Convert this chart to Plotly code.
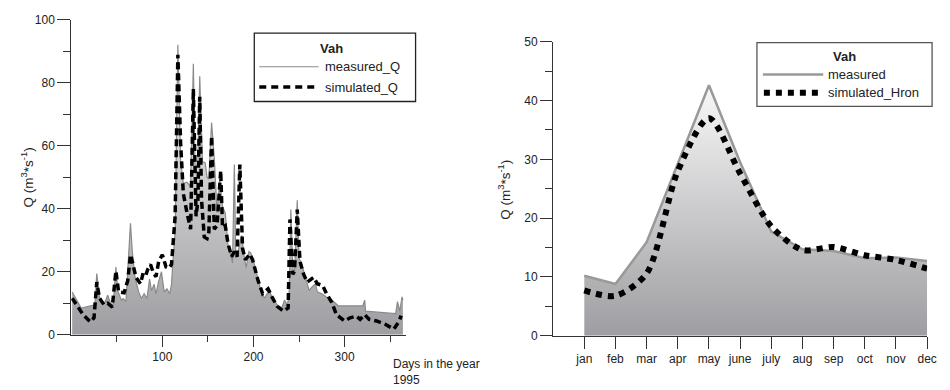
import plotly.graph_objects as go

# ---------------- Left chart: daily discharge 1995 ----------------
meas_day = [1, 11, 26, 28, 31, 35, 38, 40, 43, 46, 49, 51, 55, 57, 60, 65, 67, 70, 74, 77,
            80, 83, 86, 88, 91, 93, 96, 99, 102, 105, 108, 110, 111.5, 114, 117, 120, 123, 127,
            131, 134, 136, 139, 141, 144, 147, 149, 151, 154, 157, 160, 163, 166, 169, 172,
            175, 177, 179, 180.5, 183, 187, 190, 192, 195, 197, 201, 205, 208, 212, 215, 217,
            221, 226, 231, 234, 237, 239, 241, 243, 245, 248, 250, 253, 257, 261, 264, 268,
            270, 275, 280, 286, 293, 320, 322, 323, 356, 358, 360.5, 363, 364]
meas_q = [13.6, 8.5, 9.5, 19.4, 12, 9.5, 11, 12.6, 10, 9.5, 21.5, 14, 11, 11.5, 10.5, 35.4,
          26.4, 18.2, 13.6, 11.5, 13, 11.5, 17.7, 14, 16, 13, 17, 20, 13.6, 14.6, 13, 16, 23,
          32.5, 92, 55, 48, 48.4, 47, 86, 51, 55, 82, 55, 54.5, 50, 49.4, 67.3, 56, 38.7, 49,
          40.7, 38.7, 28.4, 25.4, 22.8, 54, 25.4, 26.4, 31.5, 24.3, 21.3, 26.4, 26, 22.3, 17.2,
          14.1, 11.6, 13, 14.1, 11.6, 9.5, 8.5, 11, 9.5, 12, 39.7, 21.3, 19.2, 42.7, 24.3,
          22.3, 18.2, 14.1, 15.1, 16.2, 13.6, 13, 12, 11, 9.2, 9.2, 11, 7.5, 6.7, 10.5, 7.5,
          12, 11]

sim_day = [1, 6, 13, 21, 25, 28, 31, 36, 40, 45, 49, 52, 58, 62, 65, 67, 71, 76, 79, 82, 84,
           87, 90, 93, 96, 100, 104, 107, 110, 114, 117, 120, 123, 127, 131, 134, 137, 139,
           141, 143, 146, 149, 151, 154, 157, 160, 164, 166, 169, 172, 176, 179, 182, 185,
           188, 191, 196, 199, 205, 210, 216, 221, 226, 233, 238, 240, 243, 245, 248, 251,
           255, 259, 266, 270, 276, 280, 286, 291, 300, 306, 313, 317, 322, 327, 335, 344,
           354, 360, 362]
sim_q = [11.6, 9.5, 6.4, 4.1, 5.4, 16.7, 11.6, 9.5, 10, 8.8, 20.2, 13.6, 13.3, 17.2, 25.4,
         23.3, 18.2, 16.2, 19.7, 19, 20.8, 22.3, 19.7, 18.4, 23.3, 25.4, 21.5, 21.1, 22.3,
         37.6, 88.8, 61, 44.8, 38.7, 33.5, 78, 37.6, 42.7, 75.5, 42.7, 31, 30.5, 32.5, 63,
         33.5, 34.6, 52, 34, 34.6, 29, 24.8, 26.4, 24.8, 54, 27.4, 23.8, 25.6, 23.8, 17.2,
         13.1, 14.6, 11.6, 9, 7.5, 8.5, 36.6, 19.2, 20.2, 39.7, 23.3, 19.2, 16.7, 18.2, 16.2,
         15.6, 13.1, 10.2, 6.4, 4.4, 5.4, 5.9, 4.9, 6.4, 4.9, 4.4, 3.4, 1.8, 4.4, 6.1]

left_yticks = [0, 20, 40, 60, 80, 100]
left_xticks = [100, 200, 300]

# ---------------- Right chart: monthly means ----------------
months = ["jan", "feb", "mar", "apr", "may", "june", "july", "aug", "sep", "oct", "nov", "dec"]
meas_month = [10.2, 8.8, 15.9, 29.2, 42.6, 29.5, 17.7, 14.7, 14.4, 13.2, 13.3, 12.7]
sim_month = [7.7, 6.8, 10.6, 28.0, 37.0, 27.6, 18.6, 14.6, 15.1, 13.7, 12.9, 11.4]
right_yticks = [0, 10, 20, 30, 40, 50]

legend_title = "Vah"
left_names = ["measured_Q", "simulated_Q"]
right_names = ["measured", "simulated_Hron"]

FONT = "Liberation Sans, Arial, sans-serif"
TXT = "#222222"
AX = "#333333"
grad = dict(type="vertical", colorscale=[[0, "#9e9ea2"], [1, "#f8f8f8"]])

L_MEAS = dict(color="#8a8a8a", width=1.2)
L_SIM = dict(color="black", width=3.5, dash="7px,4px")
R_MEAS = dict(color="#999999", width=2.5)
R_SIM = dict(color="black", width=6, dash="6px,6px")

fig = go.Figure()

# left: gradient area, measured line, simulated dashed line
fig.add_trace(go.Scatter(x=meas_day, y=meas_q, mode="lines", line=dict(width=0),
                         fill="tozeroy", fillgradient=grad, hoverinfo="skip",
                         showlegend=False, xaxis="x", yaxis="y"))
fig.add_trace(go.Scatter(x=meas_day, y=meas_q, mode="lines", name=left_names[0],
                         line=L_MEAS, xaxis="x", yaxis="y"))
fig.add_trace(go.Scatter(x=sim_day, y=sim_q, mode="lines", name=left_names[1],
                         line=L_SIM, xaxis="x", yaxis="y"))

# right
fig.add_trace(go.Scatter(x=months, y=meas_month, mode="lines", line=dict(width=0),
                         fill="tozeroy", fillgradient=grad, hoverinfo="skip",
                         showlegend=False, xaxis="x2", yaxis="y2"))
fig.add_trace(go.Scatter(x=months, y=meas_month, mode="lines", name=right_names[0],
                         line=R_MEAS, xaxis="x2", yaxis="y2"))
fig.add_trace(go.Scatter(x=months, y=sim_month, mode="lines", name=right_names[1],
                         line=dict(**R_SIM, shape="spline", smoothing=0.8),
                         xaxis="x2", yaxis="y2"))

axis_common = dict(showgrid=False, zeroline=False, showline=True, linecolor=AX, linewidth=1,
                   ticks="outside", tickcolor=AX, tickwidth=1,
                   tickfont=dict(family=FONT, size=12, color=TXT))

fig.update_layout(
    width=950, height=390,
    margin=dict(l=0, r=0, t=0, b=0),
    paper_bgcolor="white", plot_bgcolor="white",
    font=dict(family=FONT, color=TXT),
    showlegend=False,
    xaxis=dict(domain=[72 / 950, 410 / 950], range=[0, 367], anchor="y",
               tickmode="array", tickvals=left_xticks, ticklen=11,
               minor=dict(tickmode="array", tickvals=[50, 150, 250, 350], ticklen=6,
                          ticks="outside", tickcolor=AX),
               **axis_common),
    yaxis=dict(domain=[50 / 390, 377 / 390], range=[0, 100], anchor="x",
               tickmode="array", tickvals=left_yticks, ticklen=13,
               minor=dict(tickmode="array", tickvals=[10, 30, 50, 70, 90], ticklen=7,
                          ticks="outside", tickcolor=AX),
               **axis_common),
    xaxis2=dict(domain=[559 / 950, 937 / 950], range=[-1, 11], anchor="y2",
                type="category", categoryorder="array", categoryarray=months,
                ticklen=12, **axis_common),
    yaxis2=dict(domain=[49 / 390, 354 / 390], range=[0, 50], anchor="x2",
                tickmode="array", tickvals=right_yticks, ticklen=12,
                minor=dict(tickmode="array", tickvals=[5, 15, 25, 35, 45], ticklen=7,
                           ticks="outside", tickcolor=AX),
                **axis_common),
)


def px(x):
    return x / 950


def py(y):
    return 1 - y / 390


def add_legend(box, title_xy, rows, border, bw):
    x0, y0, x1, y1 = box
    fig.add_shape(type="rect", xref="paper", yref="paper", x0=px(x0), x1=px(x1),
                  y0=py(y0), y1=py(y1), line=dict(color=border, width=bw),
                  fillcolor="white", layer="above")
    fig.add_annotation(text="<b>" + legend_title + "</b>", x=px(title_xy[0]),
                       y=py(title_xy[1]), xref="paper", yref="paper", showarrow=False,
                       xanchor="center", yanchor="middle",
                       font=dict(family=FONT, size=13, color=TXT))
    for name, line, lx0, lx1, ly, tx in rows:
        fig.add_shape(type="line", xref="paper", yref="paper", x0=px(lx0), x1=px(lx1),
                      y0=py(ly), y1=py(ly), line=line, layer="above")
        fig.add_annotation(text=name, x=px(tx), y=py(ly), xref="paper", yref="paper",
                           showarrow=False, xanchor="left", yanchor="middle",
                           font=dict(family=FONT, size=13, color=TXT))


add_legend((257, 27, 420, 98), (335, 43),
           [(left_names[0], L_MEAS, 262, 322, 62, 326),
            (left_names[1], dict(color="black", width=3.5, dash="7px,5px"), 262, 318, 83, 326)],
           "#222222", 1.3)
add_legend((765, 37, 942, 103), (853, 51),
           [(right_names[0], R_MEAS, 771, 832, 70, 835),
            (right_names[1], R_SIM, 772, 828, 89, 835)],
           "#555555", 1.3)

ylab = "Q (m<sup>3</sup>*s<sup>-1</sup>)"
fig.add_annotation(text=ylab, x=px(16), y=py(177), xref="paper", yref="paper",
                   textangle=-90, showarrow=False, font=dict(family=FONT, size=13.5, color=TXT))
fig.add_annotation(text=ylab, x=px(510), y=py(190), xref="paper", yref="paper",
                   textangle=-90, showarrow=False, font=dict(family=FONT, size=13.5, color=TXT))
fig.add_annotation(text="Days in the year<br>1995", x=px(395), y=py(361),
                   xref="paper", yref="paper", xanchor="left", yanchor="top", align="left",
                   showarrow=False, font=dict(family=FONT, size=12, color=TXT))

fig.write_html("out.html")
